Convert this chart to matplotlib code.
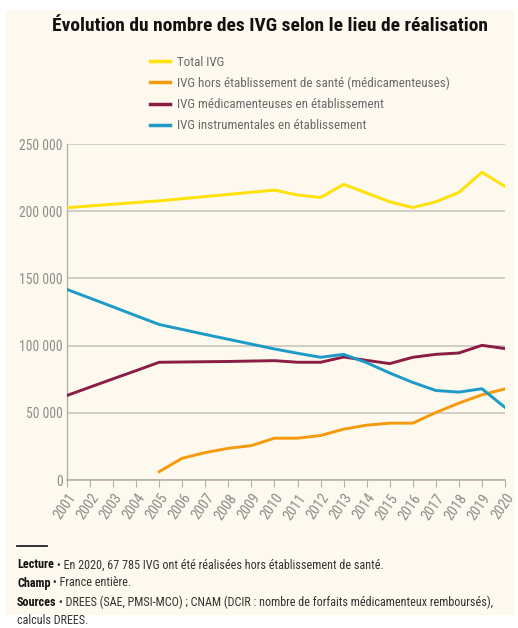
import matplotlib
matplotlib.use("Agg")
import matplotlib.pyplot as plt
from matplotlib import font_manager
from matplotlib.patches import Rectangle
from matplotlib.lines import Line2D
from matplotlib.ticker import FuncFormatter

# Données (nombre d'IVG)
annees = list(range(2001, 2021))
total_ivg = [202600, 203900, 205200, 206500, 207700, 209300, 210900, 212500,
             214100, 215700, 212000, 210200, 220000, 213500, 207000, 202700,
             207000, 214000, 229000, 218400]
instrumentales = [141800, 135300, 128800, 122200, 115700, 112000, 108300, 104700,
                  101100, 97500, 94300, 91300, 93500, 87300, 79600, 72600,
                  66600, 65400, 67900, 54000]
medic_etab = [62900, 69100, 75300, 81400, 87600, 87800, 88000, 88200,
              88500, 88800, 87600, 87600, 91500, 89000, 86600, 91300,
              93500, 94500, 100200, 97800]
annees_hors = list(range(2005, 2021))
hors_etab = [6200, 16200, 20400, 23600, 25600, 31100, 31100, 33100,
             37800, 40800, 42300, 42300, 50200, 57200, 63400, 67800]

libelles = ["Total IVG",
            "IVG hors établissement de santé (médicamenteuses)",
            "IVG médicamenteuses en établissement",
            "IVG instrumentales en établissement"]

JAUNE = "#ffe105"
ORANGE = "#f59a0a"
BORDEAUX = "#8a1c45"
BLEU = "#1c9ac8"
GRIS = "#8c8c8c"
FOND = "#fdf9ee"

# police étroite si dispo
dispo = {f.name for f in font_manager.fontManager.ttflist}
POLICE = "DejaVu Sans"
for nom in ["Liberation Sans Narrow", "Roboto Condensed", "Open Sans Condensed",
            "DejaVu Sans Condensed", "Liberation Sans"]:
    if nom in dispo:
        POLICE = nom
        break
plt.rcParams["font.family"] = [POLICE, "DejaVu Sans"]

fig = plt.figure(figsize=(5.18, 6.28), dpi=100)
fig.patch.set_facecolor("white")
W, H = 518, 628
fig.canvas.draw()
rend = fig.canvas.get_renderer()


def ajuster(texte, largeur_px, taille_max):
    """Réduit la taille de police jusqu'à tenir dans largeur_px."""
    taille = taille_max
    while taille > 5:
        texte.set_fontsize(taille)
        if texte.get_window_extent(renderer=rend).width <= largeur_px:
            break
        taille -= 0.1
    return taille


def taille_pour(chaine, largeur_px, taille_max, **kw):
    essai = fig.text(0, 0, chaine, **kw)
    t = ajuster(essai, largeur_px, taille_max)
    essai.remove()
    return t


# panneau crème
fig.add_artist(Rectangle((5 / W, 1 - 615 / H), 510 / W, 605 / H,
                         transform=fig.transFigure, facecolor=FOND,
                         edgecolor="none", zorder=-10))

titre = fig.text(52 / W, 1 - 26 / H,
                 "Évolution du nombre des IVG selon le lieu de réalisation",
                 fontweight="bold", ha="left", va="center", color="#111111")
ajuster(titre, 445, 14)

ax = fig.add_axes([67 / W, 1 - 480 / H, 438 / W, 336 / H])
ax.set_facecolor("none")

lw = 2.1
ax.plot(annees, total_ivg, color=JAUNE, lw=lw, zorder=3)
ax.plot(annees_hors, hors_etab, color=ORANGE, lw=lw, zorder=3)
ax.plot(annees, medic_etab, color=BORDEAUX, lw=lw, zorder=3)
ax.plot(annees, instrumentales, color=BLEU, lw=lw, zorder=3)

taille_y = taille_pour("250 000", 42, 14) + 0.4
taille_x = taille_pour("2001", 29, 14)

ax.set_xlim(2001, 2020)
ax.set_ylim(0, 250000)
ax.set_yticks(range(0, 250001, 50000))
ax.yaxis.set_major_formatter(FuncFormatter(lambda v, p: f"{int(v):,}".replace(",", " ")))
ax.set_xticks(annees)
ax.set_xticklabels([str(a) for a in annees], rotation=55, ha="right",
                   rotation_mode="anchor", fontsize=taille_x, color=GRIS)
ax.tick_params(axis="y", length=0, labelsize=taille_y, labelcolor=GRIS, pad=3)
ax.tick_params(axis="x", length=5, width=0.8, color="#b5b2aa", direction="out", pad=3)
ax.grid(axis="y", color="#c9c6be", lw=1.2)
ax.set_axisbelow(True)
for s in ["top", "right"]:
    ax.spines[s].set_visible(False)
ax.spines["left"].set_color("#b5b2aa")
ax.spines["bottom"].set_color("#b5b2aa")
ax.spines["left"].set_linewidth(1.0)
ax.spines["bottom"].set_linewidth(1.2)

# légende : taille ajustée sur la ligne la plus longue (~275 px)
taille_leg = taille_pour(libelles[1], 275, 10)
poignees = [Line2D([], [], color=c, lw=2.5) for c in (JAUNE, ORANGE, BORDEAUX, BLEU)]
leg = fig.legend(poignees, libelles, loc="upper left",
                 bbox_to_anchor=(143 / W, 1 - 49 / H), frameon=False,
                 fontsize=taille_leg, handlelength=1.6, handletextpad=0.5,
                 labelspacing=0.62, borderpad=0)
for t in leg.get_texts():
    t.set_color("#6a6a6a")

# notes de bas
fig.add_artist(Line2D([17 / W, 47 / W], [1 - 546 / H, 1 - 546 / H],
                      transform=fig.transFigure, color="#222222", lw=1.3))
notes = [("Lecture", " • En 2020, 67 785 IVG ont été réalisées hors établissement de santé."),
         ("Champ", " • France entière."),
         ("Sources", " • DREES (SAE, PMSI-MCO) ; CNAM (DCIR : nombre de forfaits médicamenteux remboursés),"),
         (None, "calculs DREES.")]
ys = [565, 583, 602, 620]

# taille des notes : la ligne « Sources » doit tenir sur ~480 px
taille_note = taille_pour("Sources" + notes[2][1], 490, 9.8, fontweight="bold")

for (gras, reste), y in zip(notes, ys):
    x = 17 / W
    if gras:
        tg = fig.text(x, 1 - y / H, gras, fontsize=taille_note, fontweight="bold",
                      color="#111111", va="center")
        bb = tg.get_window_extent(renderer=rend)
        x = bb.x1 / W
    fig.text(x, 1 - y / H, reste, fontsize=taille_note,
             color="#333333", va="center")

fig.savefig("out.png", dpi=100, facecolor="white")
